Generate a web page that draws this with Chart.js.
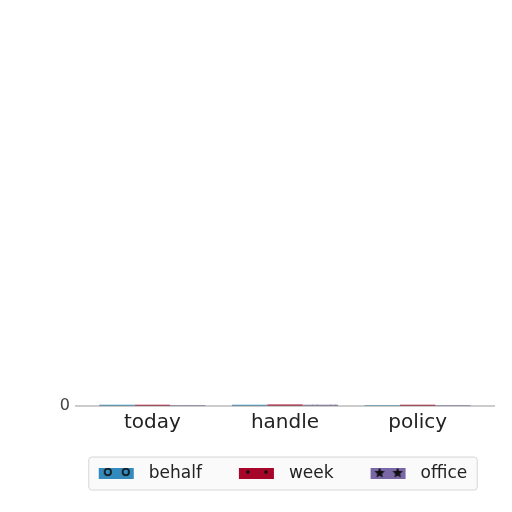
<!DOCTYPE html>
<html>
<head>
<meta charset="utf-8">
<script src="https://cdn.jsdelivr.net/npm/chart.js@4/dist/chart.umd.min.js"></script>
<style>
  html, body { margin: 0; padding: 0; background: #fff; }
  #wrap { width: 512px; height: 512px; }
</style>
</head>
<body>
<div id="wrap"><canvas id="chart"></canvas></div>
<script>
// ---------------------------------------------------------
// Data (bars sit almost flat on the 0 line)
// ---------------------------------------------------------
const categories = ["today", "handle", "policy"];
const seriesNames = ["behalf", "week", "office"];
const behalfValues = [0.3, 0.3, 0.2];
const weekValues = [0.3, 0.4, 0.3];
const officeValues = [0.2, 0.3, 0.2];
const yTickValues = [0];

const seriesColors = ["#348ABD", "#A60628", "#7A68A6"];
const hatchKinds = ["circle", "dot", "star"];

// ---------------------------------------------------------
// Hatch patterns (matplotlib style 'o', '.', '*')
// ---------------------------------------------------------
function drawStar(ctx, cx, cy, r) {
  ctx.beginPath();
  for (let i = 0; i < 10; i++) {
    const a = -Math.PI / 2 + i * Math.PI / 5;
    const rr = i % 2 === 0 ? r : r * 0.45;
    ctx.lineTo(cx + rr * Math.cos(a), cy + rr * Math.sin(a));
  }
  ctx.closePath();
  ctx.fill();
}

function makePattern(color, kind) {
  const c = document.createElement("canvas");
  c.width = 18; c.height = 18;
  const g = c.getContext("2d");
  g.fillStyle = color;
  g.fillRect(0, 0, 18, 18);
  g.fillStyle = "#111";
  g.strokeStyle = "#111";
  if (kind === "circle") {
    g.lineWidth = 1.6;
    g.beginPath(); g.arc(9, 4, 3.2, 0, Math.PI * 2); g.stroke();
  } else if (kind === "dot") {
    g.beginPath(); g.arc(9, 4, 1.8, 0, Math.PI * 2); g.fill();
  } else {
    drawStar(g, 9, 5, 5.5);
  }
  return g.createPattern(c, "repeat");
}

const ctx = document.getElementById("chart").getContext("2d");
const patterns = seriesColors.map((col, i) => makePattern(col, hatchKinds[i]));
const allValues = [behalfValues, weekValues, officeValues];

// ---------------------------------------------------------
// Plugin: long baseline + framed legend at the bottom
// ---------------------------------------------------------
const frameLegend = {
  id: "frameLegend",
  afterDatasetsDraw(chart) {
    const { ctx, chartArea } = chart;
    const y0 = chart.scales.y.getPixelForValue(0);
    ctx.save();
    ctx.strokeStyle = "#9a9a9a";
    ctx.lineWidth = 1.2;
    ctx.beginPath();
    ctx.moveTo(chartArea.left - 11, y0);
    ctx.lineTo(chartArea.right + 11, y0);
    ctx.stroke();
    ctx.restore();
  },
  afterDraw(chart) {
    const { ctx, chartArea } = chart;
    const swW = 35, swH = 11, textGap = 15, itemGap = 37, pad = 10;
    ctx.save();
    ctx.font = "17px 'DejaVu Sans'";
    const widths = seriesNames.map(n => ctx.measureText(n).width);
    let total = 0;
    widths.forEach((w, i) => { total += swW + textGap + w + (i < widths.length - 1 ? itemGap : 0); });
    const boxW = total + pad * 2;
    const cx = (chartArea.left + chartArea.right) / 2;
    const left = cx - boxW / 2 - 2;
    const top = 457, h = 33;
    ctx.fillStyle = "rgba(250,250,250,0.9)";
    ctx.strokeStyle = "#d6d6d6";
    ctx.lineWidth = 1;
    ctx.beginPath();
    ctx.roundRect(left, top, boxW, h, 3);
    ctx.fill();
    ctx.stroke();
    let x = left + pad;
    const midY = top + h / 2;
    seriesNames.forEach((name, i) => {
      ctx.save();
      ctx.translate(x, midY - swH / 2);
      ctx.fillStyle = patterns[i];
      ctx.fillRect(0, 0, swW, swH);
      ctx.restore();
      ctx.fillStyle = "#222";
      ctx.textBaseline = "middle";
      ctx.textAlign = "left";
      ctx.fillText(name, x + swW + textGap, midY);
      x += swW + textGap + widths[i] + itemGap;
    });
    ctx.restore();
  }
};

new Chart(ctx, {
  type: "bar",
  data: {
    labels: categories,
    datasets: seriesNames.map((name, i) => ({
      label: name,
      data: allValues[i],
      backgroundColor: patterns[i],
      borderWidth: 0,
      categoryPercentage: 0.8,
      barPercentage: 1.0
    }))
  },
  options: {
    responsive: true,
    maintainAspectRatio: false,
    animation: false,
    devicePixelRatio: 1,
    layout: { padding: { left: 56, right: 28, top: 10, bottom: 72 } },
    plugins: {
      legend: { display: false },
      tooltip: { enabled: false }
    },
    scales: {
      x: {
        grid: { display: false, drawTicks: false },
        border: { display: false },
        ticks: { color: "#222", font: { family: "DejaVu Sans", size: 20 }, padding: 5 }
      },
      y: {
        min: 0,
        max: 100,
        afterFit: (scale) => { scale.width = 30; },
        afterBuildTicks: (scale) => { scale.ticks = yTickValues.map(v => ({ value: v })); },
        grid: { display: false, drawTicks: false },
        border: { display: false },
        ticks: { color: "#444", font: { family: "DejaVu Sans", size: 16 }, padding: 16 }
      }
    }
  },
  plugins: [frameLegend]
});
</script>
</body>
</html>
